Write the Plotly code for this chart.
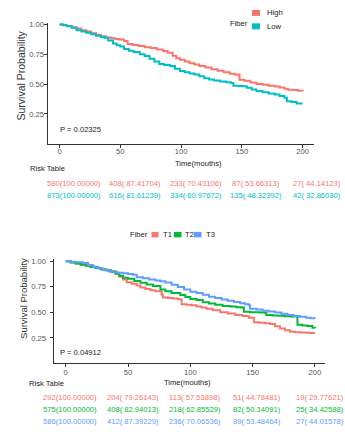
import plotly.graph_objects as go

W, H = 345, 432
NARROW = "Liberation Sans, Arial, sans-serif"
REG = "Liberation Sans, Arial, sans-serif"
FS = 7.6

# ---------------- data: chart 1 (Fiber High / Low) ----------------
high_time = [0, 3, 6, 10, 14, 18, 22, 26, 30, 34, 38, 42, 46, 49, 53, 56, 60, 65, 70, 75, 80, 85, 89, 93, 96, 99,
             103, 107, 111, 115, 120, 125, 130, 135, 140, 144, 148, 152, 157, 162, 167, 172, 177, 181, 185, 188,
             192, 196, 200]
high_surv = [1.000, 0.995, 0.988, 0.978, 0.966, 0.953, 0.941, 0.927, 0.914, 0.902, 0.891, 0.884, 0.878, 0.874,
             0.862, 0.836, 0.829, 0.819, 0.810, 0.803, 0.791, 0.777, 0.764, 0.738, 0.718, 0.704, 0.690, 0.676,
             0.664, 0.653, 0.639, 0.625, 0.612, 0.599, 0.588, 0.580, 0.537, 0.528, 0.514, 0.502, 0.494, 0.486,
             0.479, 0.472, 0.462, 0.453, 0.450, 0.444, 0.441]
low_time = [0, 3, 6, 10, 14, 18, 22, 26, 30, 34, 37, 40, 44, 47, 50, 53, 57, 61, 66, 70, 74, 78, 82, 86, 91, 95,
            99, 103, 107, 111, 115, 119, 123, 127, 132, 137, 141, 143, 147, 150, 154, 158, 162, 167, 172, 177, 181,
            185, 187, 191, 195, 199]
low_surv = [1.000, 0.993, 0.985, 0.972, 0.953, 0.942, 0.930, 0.918, 0.906, 0.896, 0.889, 0.866, 0.840, 0.826,
            0.816, 0.795, 0.781, 0.770, 0.750, 0.735, 0.712, 0.690, 0.668, 0.660, 0.652, 0.630, 0.610, 0.599,
            0.589, 0.580, 0.565, 0.549, 0.538, 0.530, 0.521, 0.515, 0.510, 0.486, 0.484, 0.483, 0.470, 0.455,
            0.442, 0.431, 0.422, 0.412, 0.401, 0.386, 0.357, 0.349, 0.338, 0.329]

risk_times = [0, 50, 100, 150, 200]
risk1_high_n = [580, 408, 233, 87, 27]
risk1_high_pct = [100.00000, 87.41704, 70.43106, 53.66313, 44.14123]
risk1_low_n = [873, 616, 334, 135, 42]
risk1_low_pct = [100.00000, 81.61239, 60.97672, 48.32392, 32.86030]
p_value_1 = "P = 0.02325"

# ---------------- data: chart 2 (Fiber T1 / T2 / T3) ----------------
t1_time = [0, 4, 8, 12, 16, 20, 24, 28, 32, 36, 40, 43, 46, 49, 53, 57, 60, 64, 68, 72, 77, 78, 82, 86, 90, 93,
           97, 101, 105, 109, 113, 118, 124, 130, 136, 142, 147, 151, 155, 160, 164, 168, 172, 176, 180, 184,
           188, 193, 197, 200]
t1_surv = [1.000, 0.990, 0.978, 0.968, 0.958, 0.945, 0.933, 0.922, 0.910, 0.898, 0.875, 0.848, 0.820, 0.793,
           0.780, 0.762, 0.742, 0.728, 0.715, 0.705, 0.675, 0.645, 0.640, 0.635, 0.628, 0.580, 0.575, 0.568,
           0.556, 0.546, 0.535, 0.520, 0.500, 0.488, 0.475, 0.463, 0.448, 0.402, 0.398, 0.392, 0.385, 0.365,
           0.342, 0.325, 0.310, 0.304, 0.302, 0.300, 0.298, 0.298]
t2_time = [0, 4, 8, 12, 16, 20, 24, 28, 32, 36, 40, 43, 46, 50, 55, 60, 65, 70, 76, 80, 85, 92, 96, 100, 105, 110,
           115, 120, 126, 132, 137, 141, 143, 148, 152, 156, 160, 161, 166, 171, 176, 181, 186, 190, 194, 198, 200]
t2_surv = [1.000, 0.988, 0.976, 0.966, 0.955, 0.944, 0.932, 0.921, 0.910, 0.899, 0.880, 0.857, 0.838, 0.829,
           0.805, 0.788, 0.772, 0.756, 0.724, 0.705, 0.690, 0.670, 0.650, 0.629, 0.620, 0.598, 0.585, 0.574,
           0.562, 0.556, 0.550, 0.546, 0.505, 0.501, 0.500, 0.498, 0.495, 0.474, 0.470, 0.466, 0.462, 0.458,
           0.378, 0.372, 0.366, 0.350, 0.344]
t3_time = [0, 4, 8, 14, 18, 22, 26, 30, 34, 37, 42, 46, 50, 54, 57, 62, 67, 72, 76, 80, 85, 90, 95, 100, 105,
           110, 115, 120, 125, 130, 135, 140, 144, 147, 148, 153, 158, 163, 168, 173, 178, 183, 188, 193, 197, 200]
t3_surv = [1.000, 0.995, 0.990, 0.982, 0.962, 0.945, 0.928, 0.915, 0.902, 0.892, 0.886, 0.882, 0.874, 0.868,
           0.843, 0.832, 0.820, 0.810, 0.804, 0.792, 0.770, 0.748, 0.722, 0.701, 0.690, 0.672, 0.652, 0.640,
           0.625, 0.612, 0.600, 0.588, 0.578, 0.569, 0.535, 0.528, 0.516, 0.508, 0.498, 0.486, 0.474, 0.465,
           0.456, 0.448, 0.442, 0.440]

risk2_t1_n = [292, 204, 113, 51, 19]
risk2_t1_pct = [100.00000, 79.26143, 57.53898, 44.78481, 29.77621]
risk2_t2_n = [575, 408, 218, 82, 25]
risk2_t2_pct = [100.00000, 82.94013, 62.85529, 50.14091, 34.42588]
risk2_t3_n = [586, 412, 236, 89, 27]
risk2_t3_pct = [100.00000, 87.39229, 70.06536, 53.48464, 44.01578]
p_value_2 = "P = 0.04912"

x_ticks = [0, 50, 100, 150, 200]
y_ticks = [0.25, 0.50, 0.75, 1.00]
y_tick_text = ["0.25", "0.50", "0.75", "1.00"]

RED, CYAN, GREEN, BLUE = "#F8766D", "#00BFC4", "#00BA38", "#619CFF"


def px_x(p):
    return p / W


def px_y(p):
    return 1 - p / H


fig = go.Figure()
for t, s, c in [(high_time, high_surv, RED), (low_time, low_surv, CYAN)]:
    fig.add_trace(go.Scatter(x=t, y=s, mode="lines", line=dict(color=c, width=2, shape="hv"),
                             showlegend=False, xaxis="x", yaxis="y", hoverinfo="skip"))
for t, s, c in [(t1_time, t1_surv, RED), (t2_time, t2_surv, GREEN), (t3_time, t3_surv, BLUE)]:
    fig.add_trace(go.Scatter(x=t, y=s, mode="lines", line=dict(color=c, width=2, shape="hv"),
                             showlegend=False, xaxis="x2", yaxis="y2", hoverinfo="skip"))

axis_common = dict(showgrid=False, zeroline=False, showline=True, linecolor="#333333", linewidth=1,
                   ticks="outside", ticklen=3, tickcolor="#333333", tickwidth=1,
                   tickfont=dict(family=NARROW, size=FS, color="#555555"), fixedrange=True)

fig.update_layout(
    width=W, height=H, margin=dict(l=0, r=0, t=0, b=0),
    paper_bgcolor="white", plot_bgcolor="white", showlegend=False,
    xaxis=dict(domain=[px_x(47.5), px_x(314)], range=[-9.9, 209.3], anchor="y",
               tickvals=x_ticks, ticklabelstandoff=-3, **axis_common),
    yaxis=dict(domain=[px_y(141.7), px_y(20)], range=[0, 1.014], anchor="x",
               tickvals=y_ticks, ticktext=y_tick_text, ticklabelstandoff=-2, **axis_common),
    xaxis2=dict(domain=[px_x(53.5), px_x(325)], range=[-9.8, 208.1], anchor="y2",
                tickvals=x_ticks, ticklabelstandoff=-2, **axis_common),
    yaxis2=dict(domain=[px_y(363), px_y(258)], range=[0, 1.019], anchor="x2",
                tickvals=y_ticks, ticktext=y_tick_text, ticklabelstandoff=2, **axis_common),
)

anns = []
shapes = []


def text(t, x, y, xanchor="left", size=FS, color="#222222", family=NARROW, angle=0):
    anns.append(dict(text=t, x=px_x(x), y=px_y(y), xref="paper", yref="paper", xanchor=xanchor,
                     yanchor="middle", showarrow=False, textangle=angle,
                     font=dict(family=family, size=size, color=color)))


def swatch(x0, x1, y0, y1, color):
    shapes.append(dict(type="rect", xref="paper", yref="paper", x0=px_x(x0), x1=px_x(x1),
                       y0=px_y(y1), y1=px_y(y0), fillcolor=color, line=dict(width=0)))


# chart 1 texts
text("Survival Probability", 21, 73, xanchor="center", size=10.5, color="#333333", family=REG, angle=-90)
text("Time(mouths)", 198, 161.5, xanchor="center")
text(p_value_1, 58, 127)
text("Risk Table", 28, 167)
text("Fiber", 228, 20.7)
swatch(252, 260, 7, 13, RED)
swatch(252, 260, 20.5, 26.5, CYAN)
text("High", 265, 10)
text("Low", 265, 23.5)

# chart 2 texts
text("Survival Probability", 24, 298, xanchor="center", size=9.5, color="#333333", family=REG, angle=-90)
text("Time(mouths)", 187, 382, xanchor="center")
text(p_value_2, 58, 351.7)
text("Risk Table", 27, 383.5)
text("Fiber", 128, 233.3)
for (a, b, c, lab, tx) in [(151.5, 158.5, RED, "T1", 161), (174, 181.5, GREEN, "T2", 183),
                           (194, 201.5, BLUE, "T3", 204)]:
    swatch(a, b, 230.5, 236, c)
    text(lab, tx, 233.3)


def risk_row(ns, pcts, color, y_px, xref, shift):
    for t, n, p in zip(risk_times, ns, pcts):
        anns.append(dict(text=f"{n}({p:9.5f})", x=t, xref=xref, xshift=shift, y=px_y(y_px), yref="paper",
                         xanchor="center", yanchor="middle", showarrow=False,
                         font=dict(family=NARROW, size=FS, color=color)))


risk_row(risk1_high_n, risk1_high_pct, RED, 181.7, "x", 14.5)
risk_row(risk1_low_n, risk1_low_pct, CYAN, 194.3, "x", 14.5)
risk_row(risk2_t1_n, risk2_t1_pct, RED, 397.3, "x2", 4.6)
risk_row(risk2_t2_n, risk2_t2_pct, GREEN, 409.5, "x2", 4.6)
risk_row(risk2_t3_n, risk2_t3_pct, BLUE, 421.7, "x2", 4.6)

fig.update_layout(annotations=anns, shapes=shapes)
fig.write_html("out.html")
